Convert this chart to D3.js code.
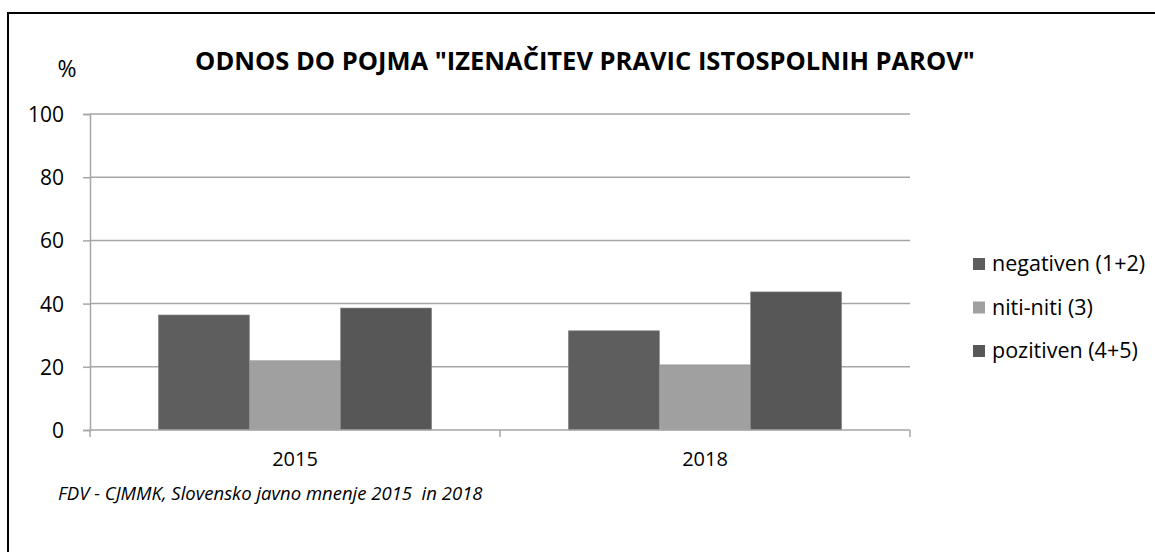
<!DOCTYPE html>
<meta charset="utf-8">
<style>
body{margin:0;background:#fff;}
text{font-family:"Open Sans",sans-serif;fill:#000;}
.grid line{stroke:#a6a6a6;stroke-width:1.5px;}
.axis path,.axis line{stroke:#a6a6a6;stroke-width:1.5px;}
</style>
<body>
<script src="https://cdn.jsdelivr.net/npm/d3@7/dist/d3.min.js"></script>
<script>
var years = ["2015", "2018"];
var series = ["negativen (1+2)", "niti-niti (3)", "pozitiven (4+5)"];
var negativen = [36.4, 31.4];
var nitiNiti = [21.9, 20.6];
var pozitiven = [38.6, 43.7];
var yTicks = [0, 20, 40, 60, 80, 100];
var colors = ["#5e5e5e", "#a0a0a0", "#575757"];

var values = [negativen, nitiNiti, pozitiven];

var W = 1155, H = 552;
var svg = d3.select("body").append("svg").attr("width", W).attr("height", H);

// frame
svg.append("rect").attr("x", 8).attr("y", 13).attr("width", W).attr("height", H)
	.attr("fill", "none").attr("stroke", "#000").attr("stroke-width", 2);

var mLeft = 90, mRight = 910, mTop = 114, mBottom = 430;

var x = d3.scaleBand().domain(years).range([mLeft, mRight]);
var y = d3.scaleLinear().domain([0, 100]).range([mBottom, mTop]);
var xs = d3.scaleBand().domain(d3.range(series.length))
	.range([0, x.bandwidth()]).paddingOuter(0.75).paddingInner(0);

// gridlines
svg.append("g").attr("class", "grid").selectAll("line")
	.data(yTicks.filter(d => d > 0)).join("line")
	.attr("x1", mLeft).attr("x2", mRight)
	.attr("y1", d => y(d)).attr("y2", d => y(d));

// bars
series.forEach(function(s, i){
	svg.append("g").selectAll("rect").data(values[i]).join("rect")
		.attr("x", (d, j) => x(years[j]) + xs(i))
		.attr("y", d => y(d))
		.attr("width", xs.bandwidth())
		.attr("height", d => mBottom - y(d))
		.attr("fill", colors[i])
		.attr("stroke", "#8c8c8c").attr("stroke-width", 0.6);
});

// y axis
var ya = svg.append("g").attr("class", "axis").attr("transform", "translate(" + mLeft + ",0)")
	.call(d3.axisLeft(y).tickValues(yTicks).tickSize(7).tickPadding(19));
ya.selectAll("text").style("font-size", "21px").style("font-family", "'Open Sans',sans-serif")
	.attr("fill", "#000").attr("dy", "0.36em");

// x axis
var xa = svg.append("g").attr("class", "axis").attr("transform", "translate(0," + mBottom + ")")
	.call(d3.axisBottom(x).tickSize(0).tickPadding(22));
xa.select(".domain").remove();
xa.append("line").attr("x1", mLeft).attr("x2", mRight);
xa.selectAll(".sep").data([mLeft, x("2018"), mRight]).join("line")
	.attr("x1", d => d).attr("x2", d => d).attr("y1", 0).attr("y2", 7);
xa.selectAll("text").style("font-size", "20px").style("font-family", "'Open Sans',sans-serif")
	.attr("fill", "#000");

// title
svg.append("text").attr("x", 585).attr("y", 70).attr("text-anchor", "middle")
	.style("font-size", "25.5px").style("font-weight", "bold")
	.text('ODNOS DO POJMA "IZENAČITEV PRAVIC ISTOSPOLNIH PAROV"');

svg.append("text").attr("x", 67).attr("y", 77).attr("text-anchor", "middle")
	.style("font-size", "23px").text("%");

// legend
var lg = svg.append("g").selectAll("g").data(series).join("g")
	.attr("transform", (d, i) => "translate(973," + (263 + i * 43.5) + ")");
lg.append("rect").attr("x", 0).attr("y", -5).attr("width", 12).attr("height", 12)
	.attr("fill", (d, i) => colors[i]);
lg.append("text").attr("x", 19).attr("y", 8).style("font-size", "21.5px").text(d => d);

// source
svg.append("text").attr("x", 58).attr("y", 500).style("font-size", "18.5px")
	.style("font-style", "italic").style("white-space", "pre")
	.text("FDV - CJMMK, Slovensko javno mnenje 2015  in 2018");
</script>
</body>
